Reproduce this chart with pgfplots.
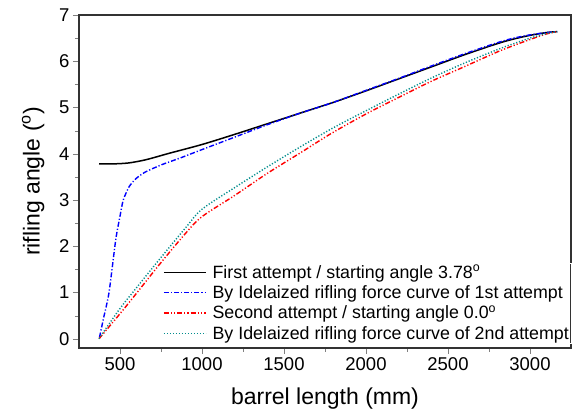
\documentclass[border=0pt]{standalone}
\usepackage{pgfplots}
\pgfplotsset{compat=1.18}
\usepackage{fontspec}
\setmainfont{Liberation Sans}
\definecolor{tealc}{RGB}{0,140,140}
\newcommand{\ls}{\rule[-4.5pt]{0pt}{17pt}\hspace*{4pt}}
\begin{document}
\begin{tikzpicture}
\begin{axis}[
  scale only axis, width=492pt, height=333pt,
  xmin=250, xmax=3250, ymin=-0.2, ymax=7,
  xtick={500,1000,...,3000}, ytick={0,1,...,7},
  minor x tick num=1, minor y tick num=1,
  xtick pos=bottom, ytick pos=left, tick align=outside,
  major tick length=6pt, minor tick length=4pt,
  axis line style={line width=1.2pt, black!80},
  /pgf/number format/assume math mode=true,
  /pgf/number format/1000 sep={},
  tick label style={font=\fontsize{18.5}{22}\selectfont},
  label style={font=\fontsize{23}{27}\selectfont},
  xlabel={barrel length (mm)},
  ylabel={rifling angle (\textsuperscript{o})},
  xlabel style={yshift=-10pt},
  ylabel style={yshift=8pt},
  legend cell align=left,
  legend image code/.code={\draw[#1] (0pt,0pt) -- (42pt,0pt);},
  legend style={at={(1,0)}, anchor=south east, yshift=5pt, draw=white, fill=none, inner sep=0pt,
    font=\fontsize{17.8}{20}\selectfont, row sep=2pt},
]
\addplot[color=black, line width=1.5pt, smooth, tension=0.5] coordinates {
(372,3.78)(450,3.78)(550,3.80)(657,3.87)(800,4.01)(1000,4.20)(1200,4.42)(1400,4.65)(1600,4.88)(1800,5.11)(2000,5.36)(2200,5.62)(2400,5.88)(2600,6.14)(2800,6.38)(2900,6.48)(3000,6.56)(3100,6.62)(3166,6.64)};
\addlegendentry{\ls First attempt / starting angle 3.78\textsuperscript{o}}
\addplot[color=blue, line width=1.4pt, dash pattern=on 5pt off 2pt on 1.2pt off 2pt, smooth, tension=0.4] coordinates {
(375,0.03)(400,0.45)(433,1.00)(474,2.14)(500,2.65)(520,3.00)(556,3.29)(600,3.47)(657,3.61)(759,3.77)(861,3.90)(1000,4.09)(1200,4.36)(1400,4.63)(1600,4.88)(1800,5.11)(2000,5.37)(2200,5.63)(2400,5.90)(2600,6.16)(2800,6.40)(2900,6.50)(3000,6.57)(3100,6.62)(3166,6.64)};
\addlegendentry{\ls By Idelaized rifling force curve of 1st attempt}
\addplot[color=red, line width=1.4pt, dash pattern=on 5pt off 2pt on 1.2pt off 2pt on 1.2pt off 2pt, smooth, tension=0.5] coordinates {
(372,0.00)(495,0.52)(600,0.98)(739,1.60)(900,2.28)(1000,2.64)(1200,3.10)(1400,3.58)(1600,4.02)(1784,4.43)(2000,4.86)(2200,5.22)(2400,5.57)(2579,5.85)(2800,6.20)(2900,6.34)(3000,6.47)(3100,6.59)(3166,6.64)};
\addlegendentry{\ls Second attempt / starting angle 0.0\textsuperscript{o}}
\addplot[color=tealc, line width=1.4pt, dash pattern=on 1.2pt off 1.8pt, smooth, tension=0.5] coordinates {
(372,0.00)(495,0.63)(600,1.10)(739,1.71)(900,2.40)(1000,2.80)(1200,3.27)(1400,3.72)(1600,4.15)(1800,4.56)(2000,4.93)(2200,5.29)(2400,5.64)(2600,5.96)(2800,6.25)(2900,6.38)(3000,6.50)(3100,6.60)(3166,6.64)};
\addlegendentry{\ls By Idelaized rifling force curve of 2nd attempt}
\end{axis}
\pgfresetboundingbox
\useasboundingbox ([shift={(-79pt,-61pt)}]current axis.south west) rectangle ([shift={(7pt,15pt)}]current axis.north east);
\end{tikzpicture}
\end{document}
